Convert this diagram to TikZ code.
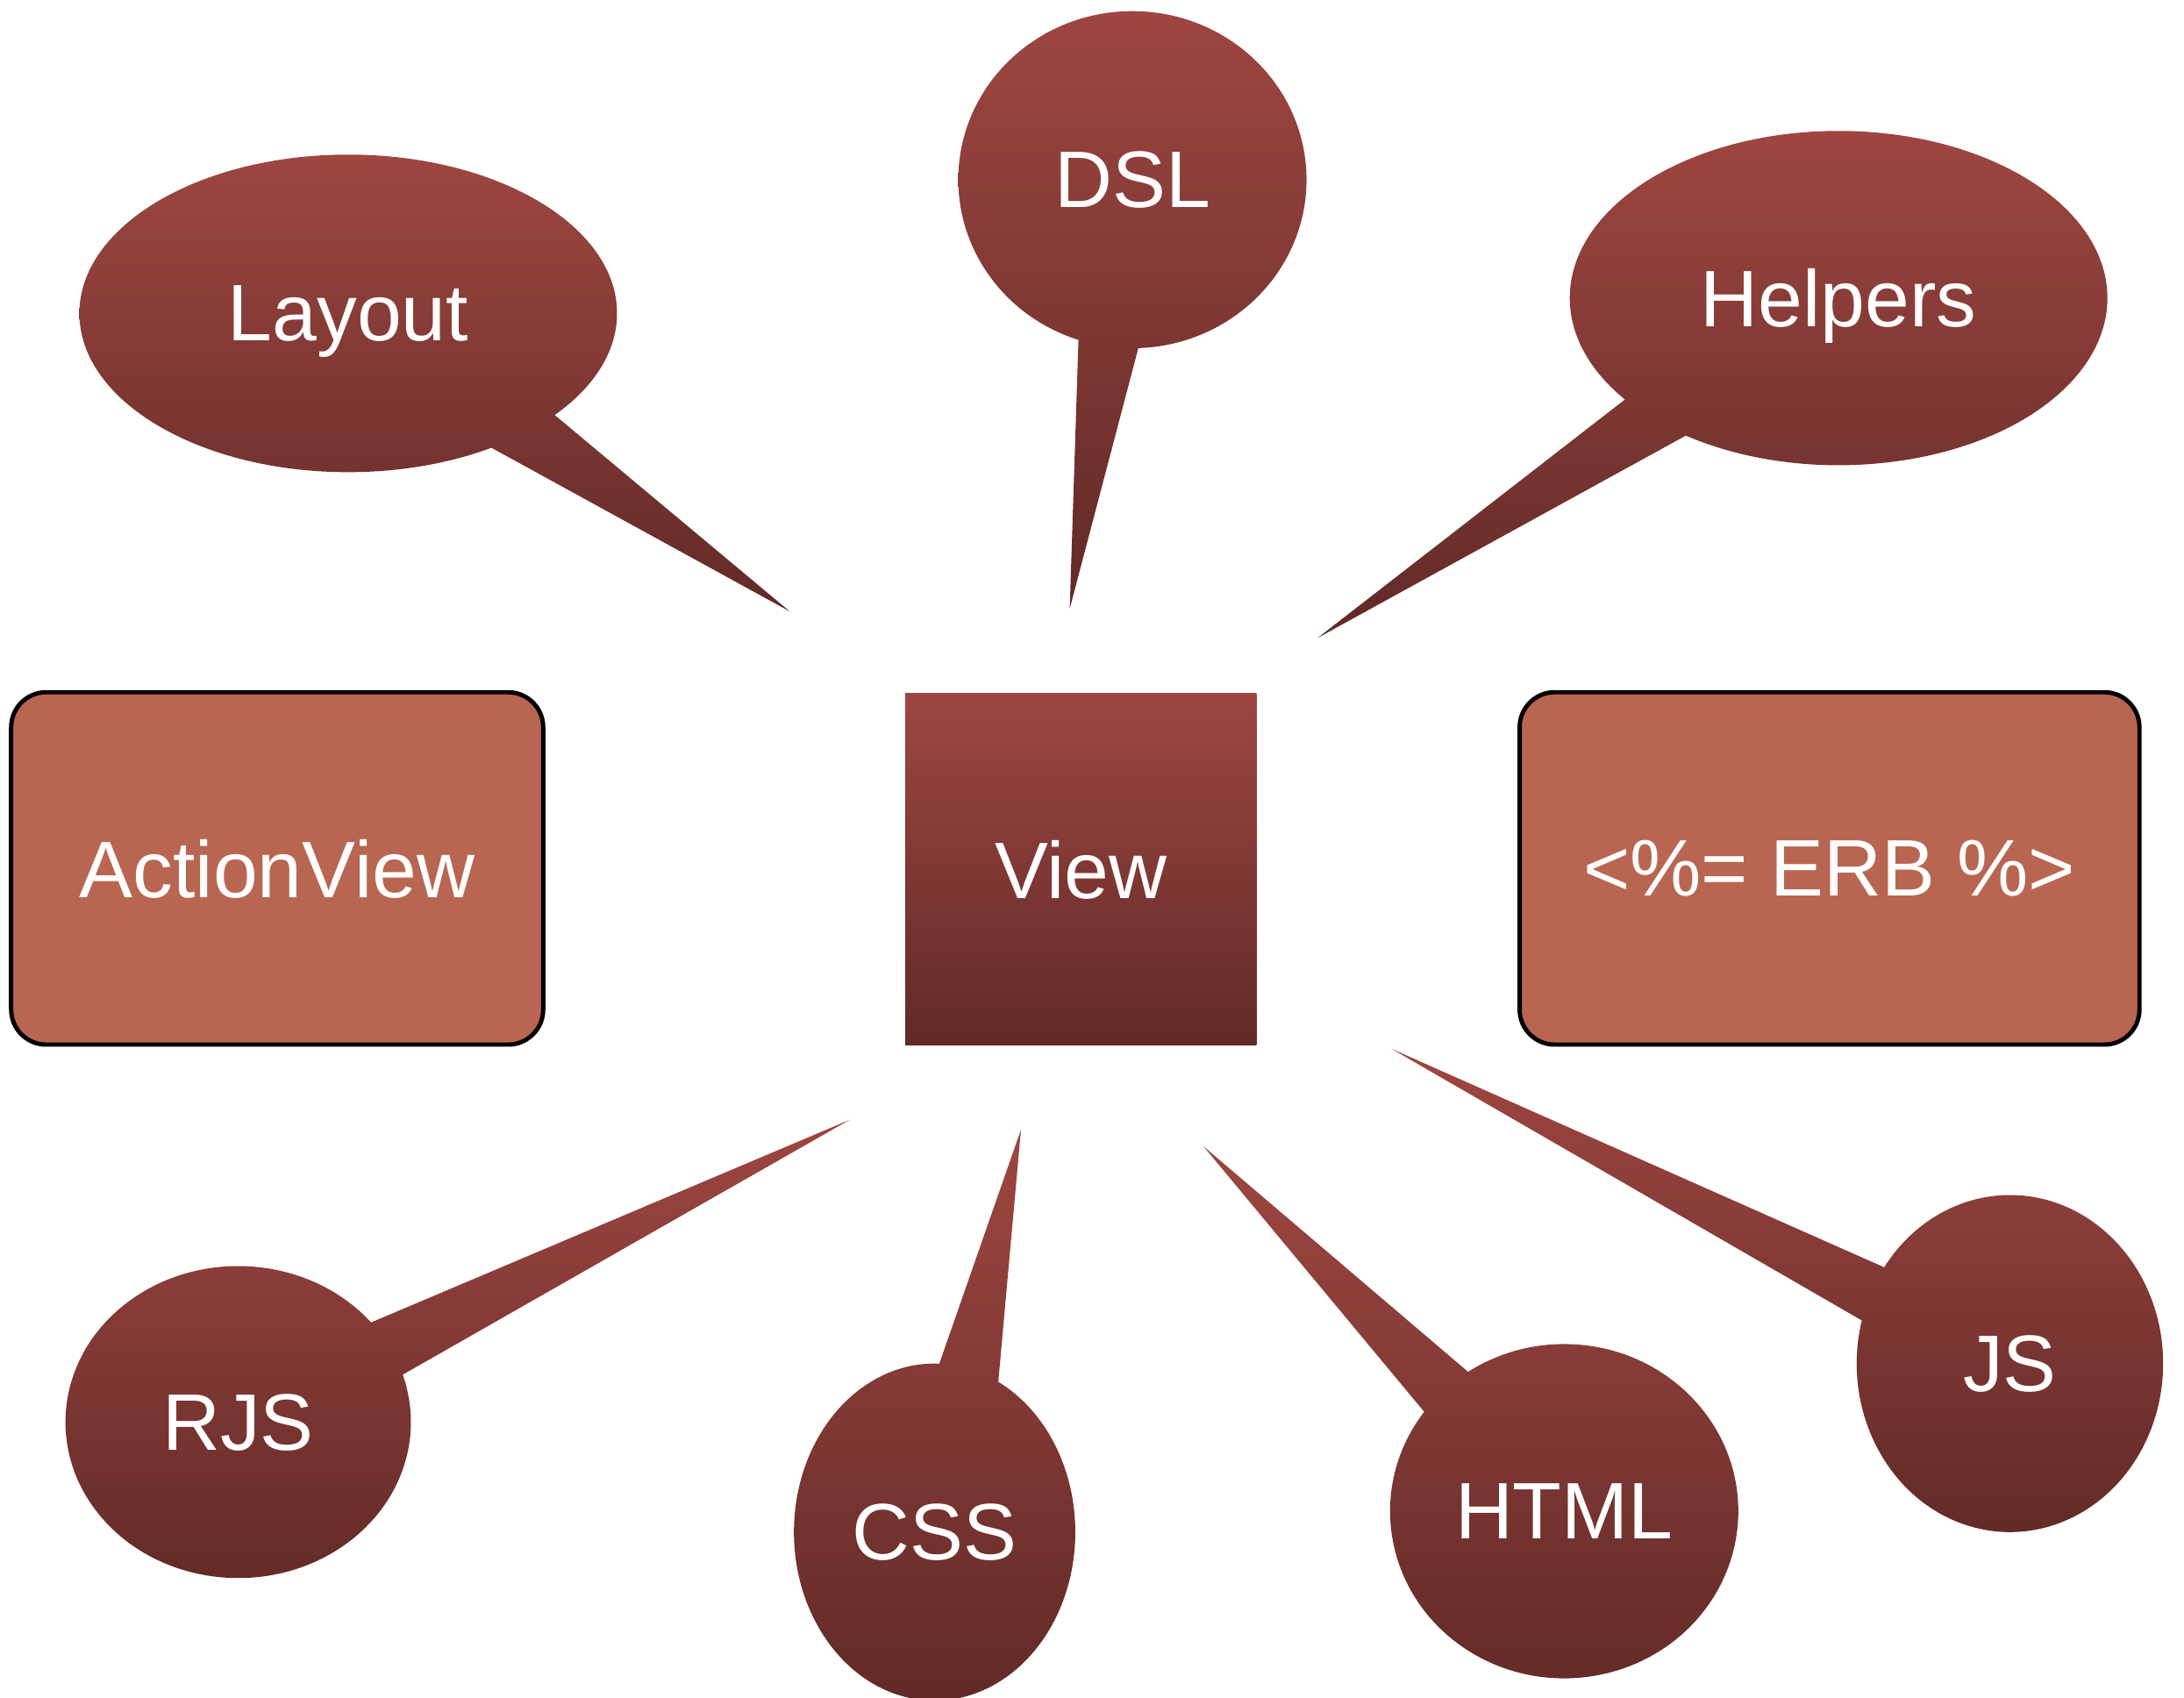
\documentclass[tikz,border=0pt]{standalone}
\usepackage{fontspec}
\setmainfont{Liberation Sans}
\usetikzlibrary{shapes.callouts}

\definecolor{bubbletop}{RGB}{158,70,65}
\definecolor{bubblebot}{RGB}{97,42,39}
\definecolor{boxfill}{RGB}{184,102,82}

\newlength\unitpx
\setlength\unitpx{0.01588cm}

\tikzset{
  labeltext/.style={text=white, text depth=0pt, font=\fontsize{26}{30}\selectfont},
  bubble/.style={ellipse callout, inner sep=0pt, labeltext,
    top color=bubbletop, bottom color=bubblebot},
  viewbox/.style={rectangle, inner sep=0pt, labeltext,
    top color=bubbletop, bottom color=bubblebot},
  sidebox/.style={rectangle, inner sep=0pt, labeltext, fill=boxfill,
    draw=black, line width=1.4pt, rounded corners=0.4cm}
}

\begin{document}
\begin{tikzpicture}[x=0.01588cm, y=-0.01588cm]
  \useasboundingbox (0,0) rectangle (1568,1219);

  %% middle row
  \node[viewbox, minimum width=252\unitpx, minimum height=252\unitpx] (view) at (776,624) {View};
  \node[sidebox, minimum width=382\unitpx, minimum height=253\unitpx] (actionview) at (199,623.5) {ActionView};
  \node[sidebox, minimum width=445\unitpx, minimum height=253\unitpx] (erb) at (1313.5,623.5) {<\%= ERB \%>};

  %% tips of the bubbles
  \coordinate (tipLayout) at (567,439);
  \coordinate (tipDSL) at (768,437);
  \coordinate (tipHelpers) at (946,458);
  \coordinate (tipRJS) at (610,804);
  \coordinate (tipCSS) at (733,811);
  \coordinate (tipHTML) at (864,823);
  \coordinate (tipJS) at (999,753);

  %% top bubbles
  \node[bubble, minimum width=386\unitpx, minimum height=228\unitpx,
    callout absolute pointer=(tipLayout), callout pointer arc=18] (layout) at (250,225) {Layout};
  \node[bubble, minimum width=250\unitpx, minimum height=242\unitpx,
    callout absolute pointer=(tipDSL), callout pointer arc=20] (dsl) at (813,129) {DSL};
  \node[bubble, minimum width=386\unitpx, minimum height=240\unitpx,
    callout absolute pointer=(tipHelpers), callout pointer arc=18] (helpers) at (1320,214) {Helpers};

  %% bottom bubbles
  \node[bubble, minimum width=248\unitpx, minimum height=224\unitpx,
    callout absolute pointer=(tipRJS), callout pointer arc=22] (rjs) at (171,1021) {RJS};
  \node[bubble, minimum width=202\unitpx, minimum height=242\unitpx,
    callout absolute pointer=(tipCSS), callout pointer arc=25] (css) at (671,1100) {CSS};
  \node[bubble, minimum width=250\unitpx, minimum height=240\unitpx,
    callout absolute pointer=(tipHTML), callout pointer arc=20] (html) at (1123,1085) {HTML};
  \node[bubble, minimum width=220\unitpx, minimum height=242\unitpx,
    callout absolute pointer=(tipJS), callout pointer arc=20] (js) at (1443,979) {JS};

\end{tikzpicture}
\end{document}
